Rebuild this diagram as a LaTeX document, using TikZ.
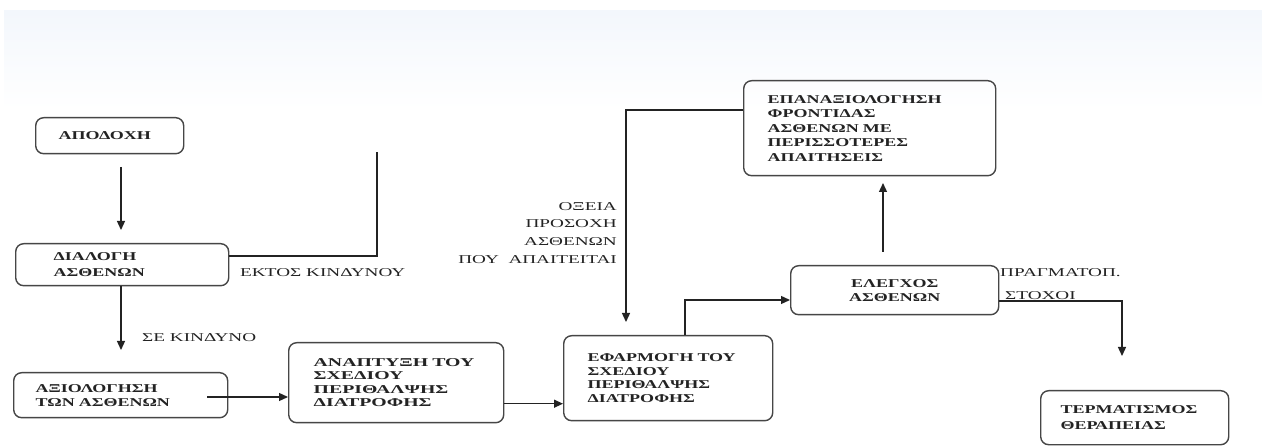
\documentclass[tikz,border=0pt]{standalone}
\usepackage{fontspec}
\usetikzlibrary{arrows.meta}
\newfontfamily\boxfont{Liberation Serif}[FakeStretch=1.5]
\newfontfamily\boxfontw{Liberation Serif}[FakeStretch=1.65]
\newfontfamily\lblfont{Liberation Serif}[FakeStretch=1.6]
\definecolor{ink}{RGB}{35,35,35}
\definecolor{edge}{RGB}{70,70,70}
\definecolor{tint}{RGB}{243,247,252}
\begin{document}
\begin{tikzpicture}[x=1pt,y=-1pt,
  box/.style={draw=edge, line width=1.4pt, rounded corners=8pt, anchor=north west,
    align=left, inner ysep=0pt, text=ink},
  sk/.style={font=\boxfont\bfseries\fontsize{12}{#1}\selectfont},
  skw/.style={font=\boxfontw\bfseries\fontsize{12}{#1}\selectfont},
  lbl/.style={inner sep=0pt, text=ink, font=\lblfont\fontsize{12}{17.7}\selectfont},
  conn/.style={draw=ink, line width=1.3pt},
  arr/.style={conn, -{Triangle[length=9pt,width=8pt]}}]
\useasboundingbox (0,0) rectangle (1262,446);
\fill[white] (0,0) rectangle (1262,446);
\shade[top color=tint, bottom color=white] (4,11) rectangle (1262,110);

% boxes
\node[box, sk=16, minimum height=36pt, inner xsep=23pt, text width=102pt] (apodochi) at (35,117) {ΑΠΟΔΟΧΗ};
\node[box, sk=16, minimum height=42pt, inner xsep=38pt, text width=137pt] (dialogi) at (15,243) {ΔΙΑΛΟΓΗ\\ΑΣΘΕΝΩΝ};
\node[box, sk=14, minimum height=45pt, inner xsep=22pt, text width=170pt] (axiol) at (13,372) {ΑΞΙΟΛΟΓΗΣΗ\\ΤΩΝ~ΑΣΘΕΝΩΝ};
\node[box, skw=13.5, minimum height=80pt, inner xsep=25pt, text width=165pt] (anapt) at (288,342) {ΑΝΑΠΤΥΞΗ~ΤΟΥ\\ΣΧΕΔΙΟΥ\\ΠΕΡΙΘΑΛΨΗΣ\\ΔΙΑΤΡΟΦΗΣ};
\node[box, sk=13.7, minimum height=85pt, inner xsep=24pt, text width=161pt] (efarm) at (563,335) {ΕΦΑΡΜΟΓΗ~ΤΟΥ\\ΣΧΕΔΙΟΥ\\ΠΕΡΙΘΑΛΨΗΣ\\ΔΙΑΤΡΟΦΗΣ};
\node[box, sk=14, minimum height=49pt, inner xsep=10pt, text width=188pt, align=center] (elegx) at (790,265) {ΕΛΕΓΧΟΣ\\ΑΣΘΕΝΩΝ};
\node[box, sk=14.5, minimum height=95pt, inner xsep=24pt, text width=204pt] (epanax) at (743,80) {ΕΠΑΝΑΞΙΟΛΟΓΗΣΗ\\ΦΡΟΝΤΙΔΑΣ\\ΑΣΘΕΝΩΝ~ΜΕ\\ΠΕΡΙΣΣΟΤΕΡΕΣ\\ΑΠΑΙΤΗΣΕΙΣ};
\node[box, sk=16, minimum height=54pt, inner xsep=20pt, text width=148pt] (term) at (1040,390) {ΤΕΡΜΑΤΙΣΜΟΣ\\ΘΕΡΑΠΕΙΑΣ};

% labels
\node[lbl, anchor=west] (ektos) at (240,273) {ΕΚΤΟΣ ΚΙΝΔΥΝΟΥ};
\node[lbl, anchor=west] (se) at (142,338) {ΣΕ ΚΙΝΔΥΝΟ};
\node[lbl, anchor=north east, align=right] (oxeia) at (617,202) {ΟΞΕΙΑ\\ΠΡΟΣΟΧΗ\\ΑΣΘΕΝΩΝ\\ΠΟΥ~~ΑΠΑΙΤΕΙΤΑΙ};
\node[lbl, anchor=west] (pragm) at (1000,273) {ΠΡΑΓΜΑΤΟΠ.};
\node[lbl, anchor=west] (stoxoi) at (1005,296) {ΣΤΟΧΟΙ};

% free ends
\coordinate (a1s) at (121,167);
\coordinate (a1e) at (121,230);
\coordinate (k1) at (377,152);
\coordinate (k2) at (377,256);
\coordinate (a3e) at (121,350);
\coordinate (a4s) at (207,397);
\coordinate (t1) at (626,110);
\coordinate (t2) at (626,322);
\coordinate (x685) at (685,300);
\coordinate (u1) at (883,252);
\coordinate (u2) at (883,183);
\coordinate (r1) at (1122,301);
\coordinate (r2) at (1122,356);

% connectors
\draw[arr] (a1s) -- (a1e);
\draw[conn] (dialogi.east |- k2) -- (k2) -- (k1);
\draw[arr] (dialogi.south -| a3e) -- (a3e);
\draw[arr] (a4s) -- (a4s -| anapt.west);
\draw[arr] ([yshift=-21pt]anapt.east) -- ([yshift=-21pt]anapt.east -| efarm.west);
\draw[arr] (epanax.west |- t1) -- (t1) -- (t2);
\draw[arr] (efarm.north -| x685) -- (x685) -- (x685 -| elegx.west);
\draw[arr] (u1) -- (u2);
\draw[arr] (elegx.east |- r1) -- (r1) -- (r2);
\end{tikzpicture}
\end{document}
